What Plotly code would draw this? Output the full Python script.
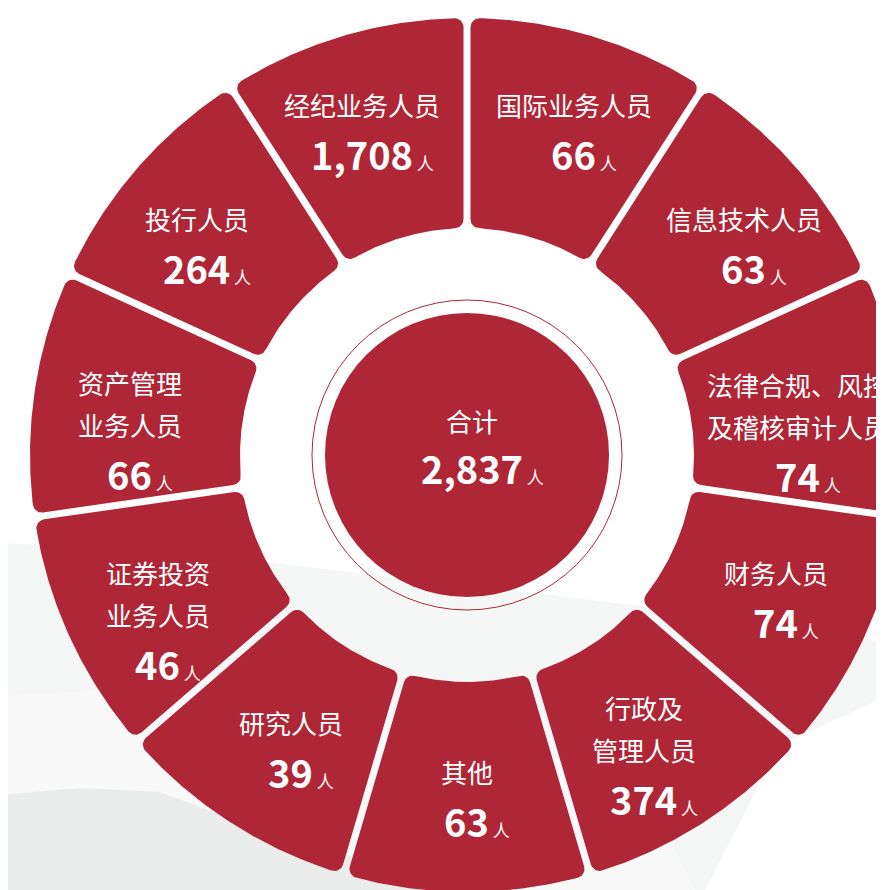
import numpy as np
import plotly.graph_objects as go

# ---------------- data ----------------
categories = ["国际业务人员", "信息技术人员", "法律合规、风控<br>及稽核审计人员", "财务人员",
              "行政及<br>管理人员", "其他", "研究人员", "证券投资<br>业务人员",
              "资产管理<br>业务人员", "投行人员", "经纪业务人员"]
headcount = [66, 63, 74, 74, 374, 63, 39, 46, 66, 264, 1708]
unit = "人"
total_label = "合计"
total = sum(headcount)

# ---------------- styling / geometry (pixels) ----------------
W, H = 884, 890
PAGE_OFF = 8          # browser body margin
CX, CY = 467 - PAGE_OFF, 455 - PAGE_OFF
R_OUT, R_IN = 437, 227
GAP = 7
RC = 9
LABEL_R = 340
RED = "#AF2736"
FONT = "Noto Sans CJK SC"
UNIT_SHIFT = 10       # digits centred, the small unit hangs to the right
# small per-slice label nudges (x, y) in pixels, y positive = down
LABEL_NUDGE = {0: (11, 0), 1: (20, 10), 2: (-6, 2), 4: (-7, -10), 6: (8, 5), 9: (-13, 10),
               10: (-9, 0)}

n = len(categories)
step = 2 * np.pi / n
start = np.pi / 2


def arc(c, r, a0, a1, num):
    t = np.linspace(a0, a1, num)
    return list(c[0] + r * np.cos(t)), list(c[1] + r * np.sin(t))


def seg_path(a1, a2):
    h = GAP / 2
    u1 = np.array([np.cos(a1), np.sin(a1)]); n1 = np.array([np.sin(a1), -np.cos(a1)])
    u2 = np.array([np.cos(a2), np.sin(a2)]); n2 = np.array([-np.sin(a2), np.cos(a2)])

    def fillet(u, nrm, radius, outer):
        d = radius - RC if outer else radius + RC
        t = np.sqrt(d ** 2 - (h + RC) ** 2)
        c = t * u + (h + RC) * nrm
        return c, t * u + h * nrm, c * radius / d

    xs, ys = [], []

    def add_fillet(c, pf, pt):
        af = np.arctan2(pf[1] - c[1], pf[0] - c[0])
        at = np.arctan2(pt[1] - c[1], pt[0] - c[0])
        d = (at - af + np.pi) % (2 * np.pi) - np.pi
        x, y = arc(c, RC, af, af + d, 12)
        xs.extend(x); ys.extend(y)

    co1, lo1, po1 = fillet(u1, n1, R_OUT, True)
    co2, lo2, po2 = fillet(u2, n2, R_OUT, True)
    ci2, li2, pi2 = fillet(u2, n2, R_IN, False)
    ci1, li1, pi1 = fillet(u1, n1, R_IN, False)

    add_fillet(co1, lo1, po1)
    ao1 = np.arctan2(po1[1], po1[0]); ao2 = np.arctan2(po2[1], po2[0])
    while ao2 > ao1:
        ao2 -= 2 * np.pi
    x, y = arc((0, 0), R_OUT, ao1, ao2, 80); xs.extend(x); ys.extend(y)
    add_fillet(co2, po2, lo2)
    add_fillet(ci2, li2, pi2)
    ai2 = np.arctan2(pi2[1], pi2[0]); ai1 = np.arctan2(pi1[1], pi1[0])
    while ai1 < ai2:
        ai1 += 2 * np.pi
    x, y = arc((0, 0), R_IN, ai2, ai1, 60); xs.extend(x); ys.extend(y)
    add_fillet(ci1, pi1, li1)
    xs.append(xs[0]); ys.append(ys[0])
    return xs, ys


def number_text(v):
    return f"<b>{v:,}</b><span style='font-size:17px'> {unit}</span>"


fig = go.Figure()
annotations = []
for i, (name, v) in enumerate(zip(categories, headcount)):
    a1 = start - i * step
    a2 = a1 - step
    xs, ys = seg_path(a1, a2)
    fig.add_trace(go.Scatter(x=xs, y=ys, mode="lines", fill="toself", fillcolor=RED,
                             line=dict(width=0, color=RED), showlegend=False,
                             hoverinfo="text", text=f"{name.replace('<br>', '')}: {v:,}{unit}"))
    mid = a1 - step / 2
    dx, dy = LABEL_NUDGE.get(i, (0, 0))
    ax, ay = LABEL_R * np.cos(mid) + dx, LABEL_R * np.sin(mid) - dy
    lines = name.split("<br>")
    y0 = ay + 24
    for j, line in enumerate(lines):
        annotations.append(dict(x=ax, y=y0 - 42 * j, text=line, showarrow=False,
                                xref="x", yref="y", xanchor="center", yanchor="middle",
                                font=dict(family=FONT, size=26, color="white")))
    annotations.append(dict(x=ax, y=y0 - 42 * (len(lines) - 1) - 49, xshift=UNIT_SHIFT,
                            text=number_text(v),
                            showarrow=False, xref="x", yref="y", xanchor="center", yanchor="middle",
                            font=dict(family=FONT, size=38, color="white")))

annotations.append(dict(x=5, y=35, text=total_label, showarrow=False, xref="x", yref="y",
                        font=dict(family=FONT, size=26, color="white")))
annotations.append(dict(x=5, y=-12, xshift=UNIT_SHIFT, text=number_text(total),
                        showarrow=False, xref="x", yref="y",
                        font=dict(family=FONT, size=38, color="white")))


def P(px, py):
    # reference-page pixel -> data coords
    return f"{px - PAGE_OFF - CX},{CY - (py - PAGE_OFF)}"


def path(pts):
    return "M " + " L ".join(P(*p) for p in pts) + " Z"


# faint ink-landscape background
bg1 = [(0, 543), (100, 548), (250, 560), (400, 578), (550, 595), (650, 607), (780, 625),
       (900, 645), (900, 690), (780, 745), (700, 900), (0, 900)]
bg_mid = [(0, 695), (120, 690), (260, 700), (400, 720), (560, 760), (660, 820), (700, 900), (0, 900)]
bg2 = [(0, 795), (80, 788), (160, 792), (250, 825), (380, 865), (470, 900), (0, 900)]

shapes = [
    dict(type="path", path=path(bg1), fillcolor="#f5f6f6", line=dict(width=0), layer="below",
         xref="x", yref="y"),
    dict(type="path", path=path(bg_mid), fillcolor="#f9f9f9", line=dict(width=0), layer="below",
         xref="x", yref="y"),
    dict(type="path", path=path(bg2), fillcolor="#ebecec", line=dict(width=0), layer="below",
         xref="x", yref="y"),
    dict(type="circle", xref="x", yref="y", x0=-155, x1=155, y0=-155, y1=155,
         line=dict(color=RED, width=1), fillcolor="rgba(255,255,255,0)", layer="below"),
    dict(type="circle", xref="x", yref="y", x0=-142, x1=142, y0=-142, y1=142,
         line=dict(width=0), fillcolor=RED, layer="below"),
]

fig.update_layout(
    width=W, height=H, margin=dict(l=0, r=0, t=0, b=0),
    paper_bgcolor="white", plot_bgcolor="white",
    xaxis=dict(range=[-CX, W - CX], visible=False, fixedrange=True),
    yaxis=dict(range=[CY - H, CY], visible=False, fixedrange=True),
    annotations=annotations, shapes=shapes, showlegend=False,
)

fig.write_html("out.html")
